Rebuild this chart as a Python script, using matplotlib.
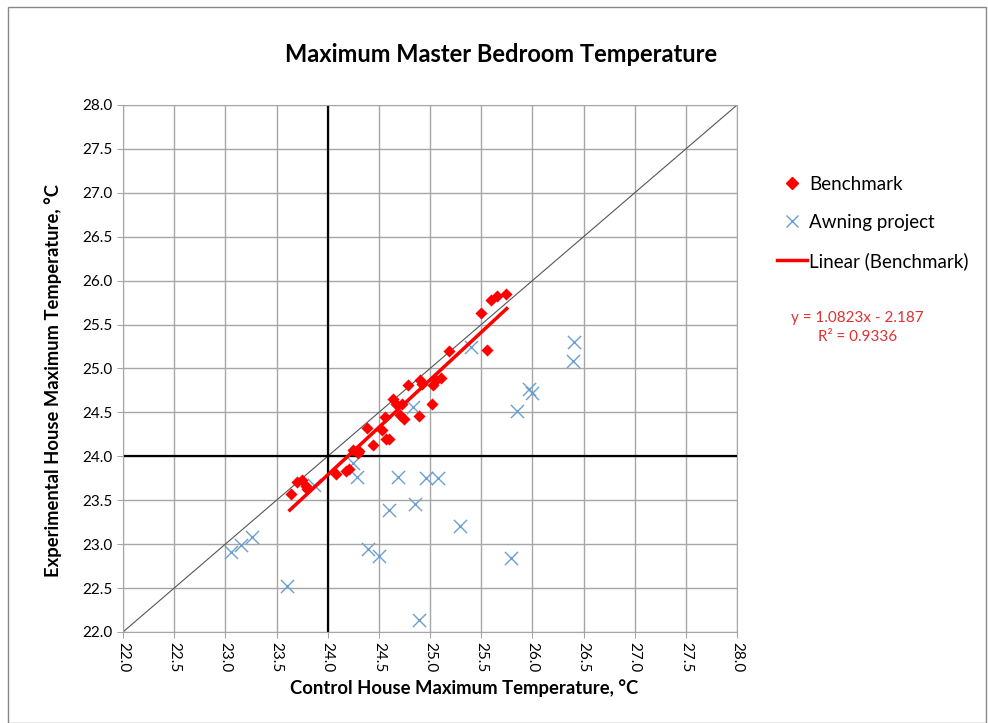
import numpy as np
import matplotlib
matplotlib.use("Agg")
import matplotlib.pyplot as plt
from matplotlib.patches import Rectangle
from matplotlib.lines import Line2D

plt.rcParams['font.family'] = ['Lato', 'DejaVu Sans']

# benchmark (control, experimental) max temperatures
bench_x = [23.64, 23.70, 23.75, 23.79, 23.80, 24.08, 24.18, 24.21, 24.25, 24.31,
           24.30, 24.38, 24.44, 24.53, 24.57, 24.60, 24.56, 24.64, 24.67, 24.71,
           24.75, 24.73, 24.78, 24.89, 24.90, 24.92, 25.03, 25.06, 25.11, 25.02,
           25.19, 25.50, 25.56, 25.60, 25.65, 25.74]
bench_y = [23.57, 23.71, 23.73, 23.66, 23.63, 23.80, 23.83, 23.86, 24.07, 24.06,
           24.04, 24.32, 24.13, 24.30, 24.20, 24.20, 24.45, 24.65, 24.60, 24.47,
           24.43, 24.60, 24.81, 24.46, 24.87, 24.82, 24.81, 24.87, 24.89, 24.60,
           25.20, 25.63, 25.21, 25.78, 25.83, 25.85]

# awning project
awn_x = [23.06, 23.15, 23.26, 23.60, 23.87, 24.25, 24.29, 24.39, 24.50, 24.60,
         24.69, 24.83, 24.85, 24.89, 24.96, 25.08, 25.29, 25.40, 25.79, 25.85,
         25.97, 26.00, 26.41, 26.40]
awn_y = [22.91, 22.99, 23.08, 22.52, 23.67, 23.92, 23.76, 22.95, 22.86, 23.39,
         23.77, 24.56, 23.46, 22.14, 23.75, 23.75, 23.21, 25.24, 22.84, 24.52,
         24.77, 24.72, 25.30, 25.08]

slope, intercept, r2 = 1.0823, -2.187, 0.9336

ticks = np.arange(22.0, 28.01, 0.5)

fig = plt.figure(figsize=(9.88, 7.23), dpi=100)
fig.patches.append(Rectangle((0.008, 0.0), 0.99, 0.99, transform=fig.transFigure,
                             fill=False, edgecolor='#888888', lw=1))
ax = fig.add_axes([0.1245, 0.1259, 0.6215, 0.7289])

ax.set_xlim(22, 28)
ax.set_ylim(22, 28)
ax.set_xticks(ticks)
ax.set_yticks(ticks)
ax.set_xticklabels([f"{t:.1f}" for t in ticks], rotation=270, fontsize=11)
ax.set_yticklabels([f"{t:.1f}" for t in ticks], fontsize=11)
ax.grid(True, color='#A6A6A6', lw=1)
ax.set_axisbelow(True)
for s in ax.spines.values():
    s.set_color('#A6A6A6')
ax.tick_params(length=4, color='#A6A6A6')

ax.plot([22, 28], [22, 28], color='#555555', lw=0.8, zorder=2)
ax.axvline(24, color='black', lw=1.6, zorder=2)
ax.axhline(24, color='black', lw=1.6, zorder=2)

ax.scatter(awn_x, awn_y, marker='x', s=90, color='#6A9FD0', lw=1.0, zorder=3)
ax.scatter(bench_x, bench_y, marker='D', s=38, color='#FF0000', lw=0, zorder=4)
lx = np.array([min(bench_x) - 0.01, max(bench_x) + 0.01])
ax.plot(lx, slope * lx + intercept, color='#FF0000', lw=2.5, zorder=5)

fig.text(0.507, 0.925, "Maximum Master Bedroom Temperature", ha='center',
         va='center', fontsize=17, fontweight='bold')
ax.set_xlabel("Control House Maximum Temperature, °C", fontsize=13.3,
              fontweight='bold')
ax.xaxis.set_label_coords(0.555, -0.09)
ax.set_ylabel("Experimental House Maximum Temperature, °C", fontsize=13.2,
              fontweight='bold')
ax.yaxis.set_label_coords(-0.1, 0.478)

handles = [Line2D([], [], marker='D', color='#FF0000', ls='none', markersize=6),
           Line2D([], [], marker='x', color='#6A9FD0', ls='none', markersize=9, mew=1),
           Line2D([], [], color='#FF0000', lw=2.5)]
fig.legend(handles, ["Benchmark", "Awning project", "Linear (Benchmark)"],
           loc='upper left', bbox_to_anchor=(0.769, 0.780), frameon=False,
           fontsize=13.5, labelspacing=1.12, handlelength=1.6, handletextpad=0.15)

fig.text(0.868, 0.547, f"y = {slope}x - {abs(intercept)}\nR² = {r2}",
         ha='center', va='center', color='#E03030', fontsize=11,
         multialignment='center', linespacing=1.4)

fig.savefig("out.png", dpi=100)
